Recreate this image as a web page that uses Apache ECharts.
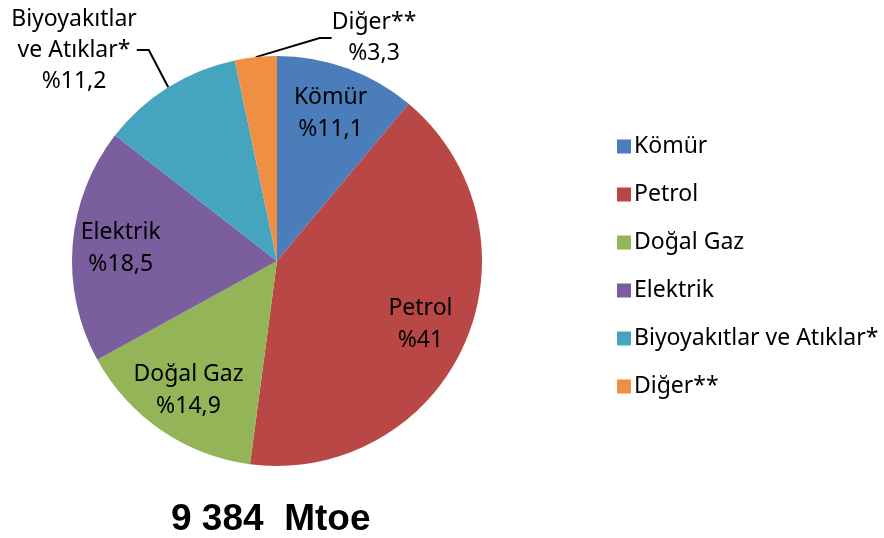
<!DOCTYPE html>
<html>
<head>
<meta charset="utf-8">
<script src="https://cdn.jsdelivr.net/npm/echarts@6/dist/echarts.min.js"></script>
<style>
  html, body { margin: 0; padding: 0; background: #fff; }
  #main { width: 884px; height: 538px; }
</style>
</head>
<body>
<div id="main"></div>
<script>
// veri
var kaynaklar = ['Kömür', 'Petrol', 'Doğal Gaz', 'Elektrik', 'Biyoyakıtlar ve Atıklar*', 'Diğer**'];
var etiketler = ['Kömür', 'Petrol', 'Doğal Gaz', 'Elektrik', 'Biyoyakıtlar\nve Atıklar*', 'Diğer**'];
var paylar = [11.1, 41, 14.9, 18.5, 11.2, 3.3];
var renkler = ['#4A7DBA', '#B84745', '#93B457', '#7A5E9D', '#45A5BF', '#EE8F44'];
var disEtiket = [false, false, false, false, true, true];
var toplam = '9 384  Mtoe';

var yazi = '"Noto Sans", "Open Sans", sans-serif';

function yuzde(v) {
  return '%' + String(v).replace('.', ',');
}

var anaVeri = kaynaklar.map(function (ad, i) {
  return {
    name: ad,
    value: paylar[i],
    itemStyle: { color: renkler[i] },
    label: { show: disEtiket[i] },
    labelLine: { show: disEtiket[i] }
  };
});

// ic etiketler icin gorunmez ikinci pasta (etiketler ~0.75r'de dursun diye)
var icVeri = kaynaklar.map(function (ad, i) {
  return {
    name: ad,
    value: paylar[i],
    label: { show: !disEtiket[i] }
  };
});

var R = 205;

var myChart = echarts.init(document.getElementById('main'));
var option = {
  animation: false,
  title: {
    text: toplam,
    left: 166,
    top: 496,
    textStyle: { fontFamily: '"Liberation Sans", Arial, sans-serif', fontWeight: 'bold', fontSize: 37, color: '#000' }
  },
  legend: {
    orient: 'vertical',
    left: 612,
    top: 130,
    itemWidth: 14,
    itemHeight: 14,
    itemGap: 25,
    icon: 'rect',
    data: kaynaklar,
    textStyle: { fontFamily: yazi, fontSize: 23, color: '#000', padding: [0, 0, 0, -2] }
  },
  series: [
    {
      name: 'ana',
      type: 'pie',
      center: [277, 261],
      radius: R,
      startAngle: 90,
      clockwise: true,
      silent: true,
      data: anaVeri,
      label: {
        position: 'outside',
        fontFamily: yazi,
        fontSize: 23,
        lineHeight: 31,
        color: '#000',
        align: 'center',
        overflow: 'none',
        formatter: function (p) {
          return etiketler[p.dataIndex] + '\n' + yuzde(p.value);
        }
      },
      labelLine: {
        length: 30,
        length2: 12,
        lineStyle: { color: '#000', width: 2 }
      },
      labelLayout: function (p) {
        if (p.dataIndex === 4) return { x: 74, y: 50, align: 'center', verticalAlign: 'middle' };
        if (p.dataIndex === 5) return { x: 374, y: 38, align: 'center', verticalAlign: 'middle' };
        return {};
      }
    },
    {
      name: 'etiket',
      type: 'pie',
      center: [277, 261],
      radius: R * 1.5,
      startAngle: 90,
      clockwise: true,
      silent: true,
      legendHoverLink: false,
      data: icVeri,
      itemStyle: { color: 'rgba(0,0,0,0)' },
      emphasis: { disabled: true },
      labelLine: { show: false },
      label: {
        position: 'inside',
        fontFamily: yazi,
        fontSize: 23,
        lineHeight: 32,
        color: '#000',
        formatter: function (p) {
          return etiketler[p.dataIndex] + '\n' + yuzde(p.value);
        }
      }
    }
  ]
};
myChart.setOption(option);
</script>
</body>
</html>
